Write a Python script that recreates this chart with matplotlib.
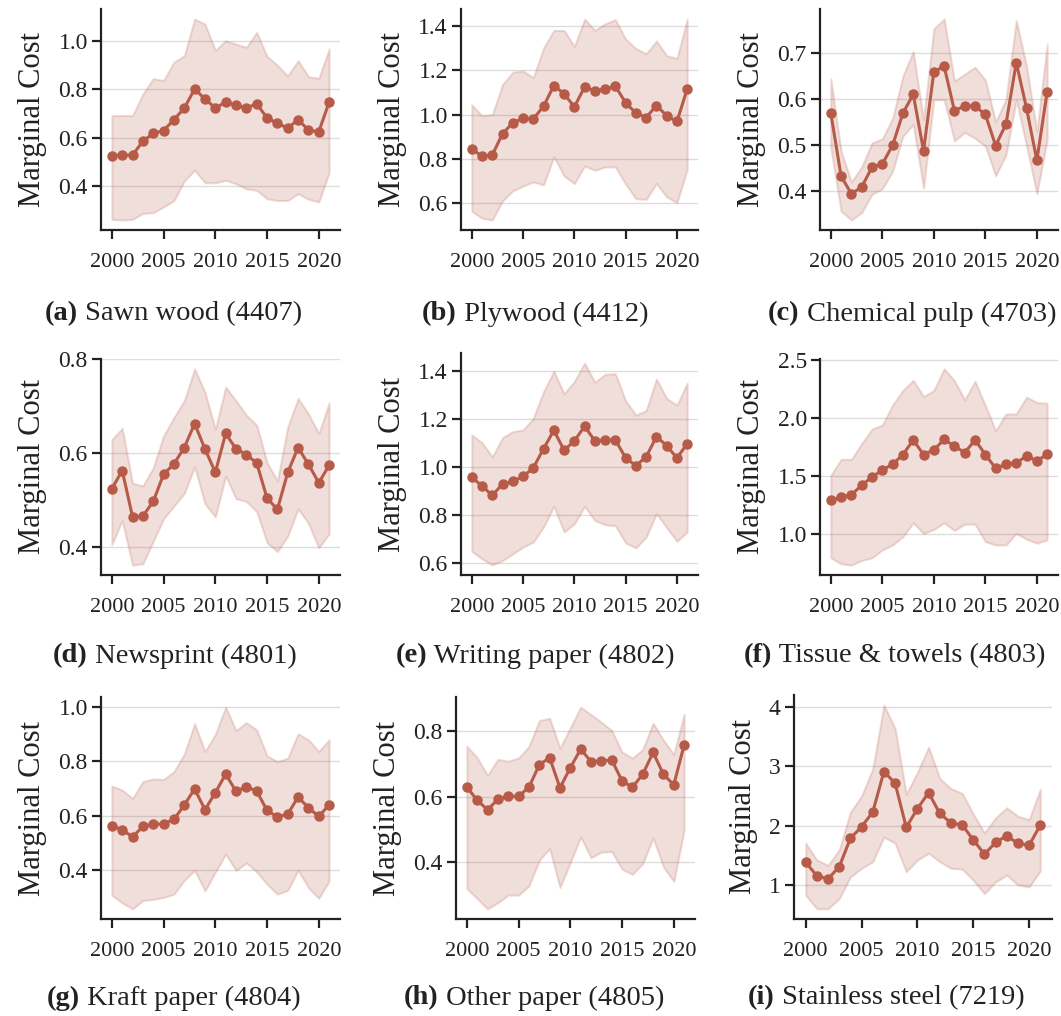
import matplotlib
matplotlib.use("Agg")
import matplotlib.pyplot as plt
import numpy as np

years = list(range(2000, 2022))

titles = ["Sawn wood (4407)", "Plywood (4412)", "Chemical pulp (4703)",
          "Newsprint (4801)", "Writing paper (4802)", "Tissue & towels (4803)",
          "Kraft paper (4804)", "Other paper (4805)", "Stainless steel (7219)"]
letters = ["(a)", "(b)", "(c)", "(d)", "(e)", "(f)", "(g)", "(h)", "(i)"]

mean_a = [0.525, 0.529, 0.529, 0.586, 0.618, 0.630, 0.675, 0.722, 0.801, 0.760, 0.723,
          0.747, 0.734, 0.723, 0.740, 0.682, 0.660, 0.640, 0.675, 0.632, 0.625, 0.747]
upper_a = [0.692, 0.692, 0.692, 0.780, 0.844, 0.836, 0.912, 0.938, 1.089, 1.068, 0.960,
           1.000, 0.986, 0.973, 1.034, 0.936, 0.899, 0.855, 0.918, 0.852, 0.845, 0.966]
lower_a = [0.264, 0.262, 0.264, 0.289, 0.292, 0.316, 0.341, 0.422, 0.467, 0.415, 0.415,
           0.425, 0.411, 0.390, 0.384, 0.349, 0.342, 0.342, 0.370, 0.347, 0.336, 0.456]

mean_b = [0.845, 0.812, 0.818, 0.914, 0.963, 0.983, 0.981, 1.038, 1.131, 1.094, 1.035,
          1.125, 1.107, 1.116, 1.128, 1.053, 1.007, 0.987, 1.041, 0.995, 0.969, 1.116]
upper_b = [1.044, 0.995, 1.000, 1.136, 1.191, 1.197, 1.167, 1.301, 1.380, 1.380, 1.308,
           1.431, 1.380, 1.410, 1.428, 1.341, 1.298, 1.275, 1.332, 1.266, 1.254, 1.431]
lower_b = [0.564, 0.533, 0.525, 0.611, 0.656, 0.678, 0.696, 0.683, 0.810, 0.723, 0.689,
           0.768, 0.749, 0.764, 0.764, 0.686, 0.621, 0.618, 0.689, 0.629, 0.603, 0.753]

mean_c = [0.570, 0.432, 0.394, 0.409, 0.452, 0.459, 0.500, 0.570, 0.611, 0.488, 0.660,
          0.672, 0.575, 0.586, 0.585, 0.567, 0.499, 0.546, 0.680, 0.580, 0.467, 0.617]
upper_c = [0.645, 0.487, 0.420, 0.453, 0.505, 0.514, 0.559, 0.651, 0.704, 0.556, 0.754,
           0.775, 0.640, 0.655, 0.670, 0.642, 0.551, 0.600, 0.772, 0.672, 0.530, 0.720]
lower_c = [0.494, 0.356, 0.337, 0.353, 0.393, 0.405, 0.443, 0.520, 0.545, 0.406, 0.599,
           0.599, 0.509, 0.528, 0.515, 0.498, 0.433, 0.479, 0.599, 0.498, 0.394, 0.512]

mean_d = [0.524, 0.563, 0.464, 0.466, 0.497, 0.555, 0.577, 0.612, 0.663, 0.609, 0.559,
          0.642, 0.609, 0.597, 0.579, 0.504, 0.480, 0.559, 0.612, 0.576, 0.537, 0.574]
upper_d = [0.629, 0.653, 0.536, 0.530, 0.569, 0.637, 0.676, 0.712, 0.780, 0.730, 0.651,
           0.741, 0.712, 0.681, 0.660, 0.580, 0.541, 0.656, 0.717, 0.684, 0.642, 0.707]
lower_d = [0.405, 0.456, 0.361, 0.364, 0.412, 0.460, 0.487, 0.514, 0.571, 0.492, 0.464,
           0.551, 0.503, 0.497, 0.475, 0.409, 0.390, 0.423, 0.481, 0.450, 0.398, 0.428]

mean_e = [0.957, 0.922, 0.882, 0.930, 0.941, 0.961, 0.997, 1.077, 1.153, 1.070, 1.109,
          1.170, 1.109, 1.113, 1.113, 1.038, 1.006, 1.043, 1.127, 1.089, 1.038, 1.098]
upper_e = [1.134, 1.102, 1.043, 1.123, 1.148, 1.155, 1.203, 1.315, 1.399, 1.305, 1.357,
           1.433, 1.353, 1.387, 1.389, 1.276, 1.217, 1.236, 1.367, 1.286, 1.258, 1.350]
lower_e = [0.649, 0.618, 0.593, 0.611, 0.639, 0.667, 0.688, 0.751, 0.837, 0.730, 0.764,
           0.837, 0.778, 0.760, 0.756, 0.684, 0.664, 0.709, 0.806, 0.748, 0.691, 0.730]

mean_f = [1.290, 1.319, 1.337, 1.421, 1.490, 1.551, 1.601, 1.685, 1.810, 1.685, 1.725,
          1.815, 1.757, 1.702, 1.810, 1.685, 1.566, 1.601, 1.612, 1.673, 1.630, 1.688]
upper_f = [1.505, 1.644, 1.644, 1.780, 1.905, 1.940, 2.114, 2.239, 2.326, 2.187, 2.239,
           2.425, 2.323, 2.158, 2.317, 2.108, 1.891, 2.036, 2.036, 2.181, 2.134, 2.129]
lower_f = [0.794, 0.742, 0.730, 0.771, 0.794, 0.861, 0.904, 0.977, 1.096, 1.003, 1.038,
           1.096, 1.029, 1.084, 1.084, 0.933, 0.904, 0.904, 1.003, 0.954, 0.919, 0.948]

mean_g = [0.564, 0.549, 0.523, 0.561, 0.569, 0.571, 0.587, 0.640, 0.699, 0.623, 0.685,
          0.754, 0.690, 0.707, 0.691, 0.620, 0.596, 0.607, 0.669, 0.630, 0.598, 0.641]
upper_g = [0.710, 0.695, 0.664, 0.726, 0.736, 0.734, 0.763, 0.827, 0.939, 0.837, 0.900,
           1.000, 0.914, 0.943, 0.916, 0.821, 0.800, 0.812, 0.902, 0.880, 0.837, 0.880]
lower_g = [0.308, 0.280, 0.258, 0.289, 0.293, 0.300, 0.312, 0.363, 0.400, 0.324, 0.393,
           0.459, 0.400, 0.427, 0.394, 0.349, 0.312, 0.326, 0.400, 0.336, 0.297, 0.360]

mean_h = [0.629, 0.589, 0.560, 0.592, 0.601, 0.601, 0.629, 0.697, 0.719, 0.627, 0.688,
          0.745, 0.707, 0.709, 0.712, 0.648, 0.629, 0.668, 0.735, 0.668, 0.636, 0.758]
upper_h = [0.754, 0.719, 0.665, 0.714, 0.708, 0.718, 0.753, 0.832, 0.839, 0.748, 0.810,
           0.873, 0.850, 0.827, 0.802, 0.736, 0.718, 0.744, 0.824, 0.772, 0.729, 0.851]
lower_h = [0.320, 0.289, 0.258, 0.277, 0.300, 0.300, 0.328, 0.406, 0.442, 0.323, 0.399,
           0.477, 0.414, 0.431, 0.433, 0.379, 0.363, 0.396, 0.474, 0.386, 0.342, 0.497]

mean_i = [1.385, 1.158, 1.107, 1.311, 1.788, 1.986, 2.230, 2.911, 2.718, 1.975, 2.287,
          2.559, 2.208, 2.049, 2.015, 1.765, 1.521, 1.720, 1.833, 1.703, 1.674, 2.009]
upper_i = [1.708, 1.425, 1.334, 1.595, 2.230, 2.503, 2.956, 4.030, 3.640, 2.531, 2.900,
           3.325, 2.797, 2.627, 2.548, 2.200, 1.879, 2.134, 2.304, 2.162, 2.106, 2.616]
lower_i = [0.830, 0.603, 0.603, 0.773, 1.141, 1.282, 1.396, 1.810, 1.708, 1.226, 1.425,
           1.538, 1.396, 1.283, 1.272, 1.084, 0.858, 1.056, 1.170, 1.005, 0.971, 1.238]

means = [mean_a, mean_b, mean_c, mean_d, mean_e, mean_f, mean_g, mean_h, mean_i]
uppers = [upper_a, upper_b, upper_c, upper_d, upper_e, upper_f, upper_g, upper_h, upper_i]
lowers = [lower_a, lower_b, lower_c, lower_d, lower_e, lower_f, lower_g, lower_h, lower_i]

yticks = [[0.4, 0.6, 0.8, 1.0], [0.6, 0.8, 1.0, 1.2, 1.4], [0.4, 0.5, 0.6, 0.7],
          [0.4, 0.6, 0.8], [0.6, 0.8, 1.0, 1.2, 1.4], [1.0, 1.5, 2.0, 2.5],
          [0.4, 0.6, 0.8, 1.0], [0.4, 0.6, 0.8], [1, 2, 3, 4]]
ytick_labels = [["0.4", "0.6", "0.8", "1.0"], ["0.6", "0.8", "1.0", "1.2", "1.4"],
                ["0.4", "0.5", "0.6", "0.7"], ["0.4", "0.6", "0.8"],
                ["0.6", "0.8", "1.0", "1.2", "1.4"], ["1.0", "1.5", "2.0", "2.5"],
                ["0.4", "0.6", "0.8", "1.0"], ["0.4", "0.6", "0.8"], ["1", "2", "3", "4"]]
xticks = [2000, 2005, 2010, 2015, 2020]

W, H = 1061, 1016
# axes boxes in pixels: left, top, right, bottom
boxes = [(101, 9, 340, 230), (461, 9, 698, 230), (820, 9, 1058, 230),
         (101, 359, 340, 575), (461, 353, 698, 575), (820, 359, 1058, 575),
         (101, 697, 340, 919), (456, 697, 695, 919), (794, 695, 1052, 919)]
cap_pos = [(173, 314), (535, 314), (912, 314),
           (175, 656), (535, 656), (895, 656),
           (174, 998), (534, 998), (886, 998)]

FONT = "Liberation Serif"
plt.rcParams["font.family"] = [FONT, "DejaVu Serif"]
color = "#b75a48"
txtc = "#222222"

fig = plt.figure(figsize=(W / 100, H / 100), dpi=100)

for k in range(9):
    l, t, r, b = boxes[k]
    ax = fig.add_axes([l / W, 1 - b / H, (r - l) / W, (b - t) / H])
    ax.fill_between(years, lowers[k], uppers[k], color=color, alpha=0.2,
                    linewidth=1.5, zorder=2)
    ax.plot(years, means[k], color=color, linewidth=2.2, marker="o",
            markersize=6.5, zorder=3)
    ax.set_xticks(xticks)
    ax.set_xticklabels([str(x) for x in xticks])
    ax.set_yticks(yticks[k])
    ax.set_yticklabels(ytick_labels[k])
    ax.grid(axis="y", color="#dddddd", linewidth=1.0, zorder=0)
    ax.set_axisbelow(True)
    for s in ["top", "right"]:
        ax.spines[s].set_visible(False)
    for s in ["left", "bottom"]:
        ax.spines[s].set_linewidth(1.6)
        ax.spines[s].set_color(txtc)
    ax.tick_params(axis="both", length=6.5, width=1.6,
                   colors=txtc, labelcolor=txtc)
    ax.tick_params(axis="x", labelsize=16, pad=10)
    ax.tick_params(axis="y", labelsize=17, pad=3)
    ax.set_ylabel("Marginal Cost", fontsize=22, color=txtc, labelpad=8)

fig.canvas.draw()
renderer = fig.canvas.get_renderer()
for k in range(9):
    cx, cy = cap_pos[k]
    t1 = fig.text(0, 1 - cy / H, letters[k], fontsize=20.5, fontweight="bold",
                  color=txtc, va="center", ha="left")
    t2 = fig.text(0, 1 - cy / H, " " + titles[k], fontsize=20.5,
                  color=txtc, va="center", ha="left")
    w1 = t1.get_window_extent(renderer).width
    w2 = t2.get_window_extent(renderer).width
    x0 = cx - (w1 + w2) / 2
    t1.set_x(x0 / W)
    t2.set_x((x0 + w1) / W)

fig.savefig("out.png", dpi=100)
